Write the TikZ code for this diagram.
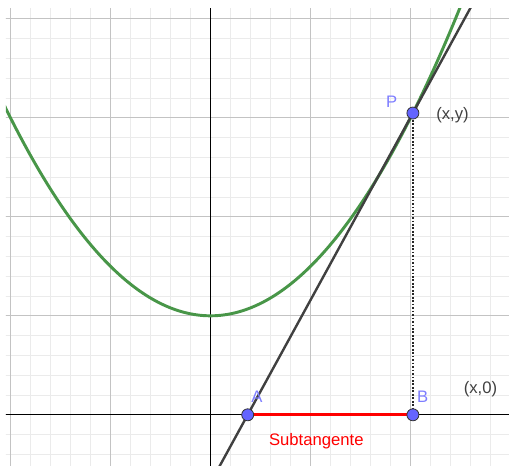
\documentclass[tikz,border=0pt]{standalone}
\usepackage{fontspec}
\setmainfont{Liberation Sans}
\usepackage{tikz}
\usetikzlibrary{calc}

\definecolor{curvegreen}{RGB}{72,150,72}
\definecolor{ptblue}{RGB}{100,100,255}
\definecolor{lblblue}{RGB}{125,125,255}
\definecolor{minorgray}{RGB}{235,235,235}
\definecolor{majorgray}{RGB}{195,195,195}

\begin{document}
\begin{tikzpicture}[x=75pt,y=74.25pt,
    pt/.style={circle,draw=black!80,line width=.6pt,fill=ptblue,inner sep=0pt,minimum size=9pt},
    lbl/.style={font=\fontsize{12.5}{14}\selectfont},
    tangent/.style={line width=1.8pt,black!75}]
  \useasboundingbox (-2.105,-.517) rectangle (2.985,4.19);
  \begin{scope}
    \clip (-2.045,-.517) rectangle (2.985,4.10);
    \draw[minorgray,line width=.7pt] (-2.2,-.6) grid[xstep=.2,ystep=.2] (3.1,4.2);
    \draw[majorgray,line width=.8pt] (-2.2,-.6) grid[xstep=1,ystep=1] (3.1,4.2);
    \draw[black,line width=.75pt] (-2.2,0) -- (3.1,0);
    \draw[black,line width=.75pt] (0,-.6) -- (0,4.2);
    % the parabola
    \draw[curvegreen,line width=2.2pt,smooth,domain=-2.1:2.6,samples=80]
      plot (\x,{1+\x*\x/2});
    \coordinate (A) at (.372,0);
    \coordinate (P) at (2.024,3.048);
    \coordinate (B) at (2.024,0);
    \coordinate (lo) at ($(A)!-.25!(P)$);
    \coordinate (hi) at ($(A)!1.5!(P)$);
    \draw[tangent] (lo) -- (hi);
  \end{scope}
  \draw[black!85,line width=1.7pt,dash pattern=on 1.3pt off 1.3pt] (P) -- (B);
  \draw[red,line width=2.2pt] (A) -- (B);
  \node[pt] (nA) at (A) {};
  \node[pt] (nB) at (B) {};
  \node[pt] (nP) at (P) {};
  \node[lbl,lblblue] (lP) at (1.812,3.157) {P};
  \node[lbl,black!75] (lxy) at (2.42,3.03) {(x,y)};
  \node[lbl,lblblue] (lA) at (.465,.183) {A};
  \node[lbl,lblblue] (lB) at (2.122,.183) {B};
  \node[lbl,black!75] (lx0) at (2.70,.258) {(x,0)};
  \node[lbl,red,anchor=base] (lsub) at (1.058,-.305) {Subtangente};
\end{tikzpicture}
\end{document}
